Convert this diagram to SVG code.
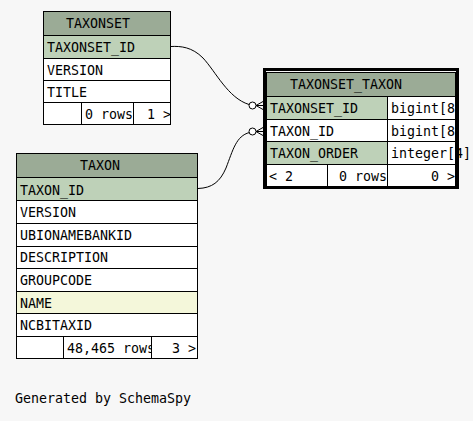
<svg xmlns="http://www.w3.org/2000/svg" width="473" height="421" viewBox="0 0 473 421">
<style>
text{font-family:"DejaVu Sans Mono","Liberation Mono",monospace;font-size:13.3px;fill:#000}
.c{stroke:#000;stroke-width:1}
.h{fill:#9bab96}
.k{fill:#bed1b8}
.w{fill:#fff}
.i{fill:#f4f7da}
.e{fill:none;stroke:#000;stroke-width:1}
</style>
<rect width="473" height="421" fill="#f7f7f7"/>
<g id="connectors">
<path class="e" d="M171,46.5 C181,46 192,47 203,58 C216,72 228,98 249,104.5"/>
<circle class="e" cx="252.5" cy="105.5" r="3.5" style="fill:#fff"/>
<path class="e" d="M256,105.5 L263,101.5 M256,105.5 L263,105.5 M256,105.5 L263,109.5"/>
<path class="e" d="M198,188.5 C212,188 220,182 226,168 C233,150 236,136 249.5,132.5"/>
<circle class="e" cx="252.5" cy="131.5" r="3.5" style="fill:#fff"/>
<path class="e" d="M256,131.5 L263,127.5 M256,131.5 L263,131.5 M256,131.5 L263,135.5"/>
</g>
<g id="TAXONSET">
<rect class="c h" x="43.5" y="11.5" width="127" height="24"/>
<text x="66" y="28">TAXONSET</text>
<rect class="c k" x="43.5" y="35.5" width="127" height="23"/>
<text x="47" y="52">TAXONSET_ID</text>
<rect class="c w" x="43.5" y="58.5" width="127" height="22"/>
<text x="47" y="74.5">VERSION</text>
<rect class="c w" x="43.5" y="80.5" width="127" height="22"/>
<text x="47" y="96.5">TITLE</text>
<rect class="c w" x="43.5" y="102.5" width="127" height="22"/>
<line class="c" x1="81.5" y1="102.5" x2="81.5" y2="124.5"/>
<line class="c" x1="133.5" y1="102.5" x2="133.5" y2="124.5"/>
<text x="85" y="119">0 rows</text>
<text x="147" y="119">1 &gt;</text>
</g>
<g id="TAXON">
<rect class="c h" x="16.5" y="153.5" width="181" height="24"/>
<text x="80" y="170">TAXON</text>
<rect class="c k" x="16.5" y="177.5" width="181" height="23"/>
<text x="20" y="195">TAXON_ID</text>
<rect class="c w" x="16.5" y="200.5" width="181" height="23"/>
<text x="20" y="217">VERSION</text>
<rect class="c w" x="16.5" y="223.5" width="181" height="23"/>
<text x="20" y="240">UBIONAMEBANKID</text>
<rect class="c w" x="16.5" y="246.5" width="181" height="22"/>
<text x="20" y="262">DESCRIPTION</text>
<rect class="c w" x="16.5" y="268.5" width="181" height="23"/>
<text x="20" y="285">GROUPCODE</text>
<rect class="c i" x="16.5" y="291.5" width="181" height="22"/>
<text x="20" y="307.5">NAME</text>
<rect class="c w" x="16.5" y="313.5" width="181" height="23"/>
<text x="20" y="330">NCBITAXID</text>
<rect class="c w" x="16.5" y="336.5" width="181" height="22"/>
<text x="67" y="353">48,465 rows</text>
<rect class="w" x="152" y="337" width="45" height="21"/>
<line class="c" x1="63.5" y1="336.5" x2="63.5" y2="358.5"/>
<line class="c" x1="151.5" y1="336.5" x2="151.5" y2="358.5"/>
<text x="172" y="353">3 &gt;</text>
</g>
<g id="TAXONSET_TAXON">
<rect class="c h" x="266.5" y="72.5" width="189" height="24"/>
<text x="290" y="88.5">TAXONSET_TAXON</text>
<rect class="c k" x="266.5" y="96.5" width="121" height="23"/>
<rect class="c w" x="387.5" y="96.5" width="68" height="23"/>
<text x="270" y="113">TAXONSET_ID</text>
<text x="391" y="113">bigint[8</text>
<rect class="c w" x="266.5" y="119.5" width="121" height="22"/>
<rect class="c w" x="387.5" y="119.5" width="68" height="22"/>
<text x="270" y="135.5">TAXON_ID</text>
<text x="391" y="135.5">bigint[8</text>
<rect class="c k" x="266.5" y="141.5" width="121" height="23"/>
<rect class="c w" x="387.5" y="141.5" width="68" height="23"/>
<text x="270" y="158">TAXON_ORDER</text>
<text x="391" y="158">integer[4]</text>
<rect class="c w" x="266.5" y="164.5" width="189" height="22"/>
<line class="c" x1="327.5" y1="164.5" x2="327.5" y2="186.5"/>
<line class="c" x1="387.5" y1="164.5" x2="387.5" y2="186.5"/>
<text x="269" y="181">&lt; 2</text>
<text x="339" y="181">0 rows</text>
<text x="431" y="181">0 &gt;</text>
<rect x="264.5" y="69.5" width="193" height="118" fill="none" stroke="#000" stroke-width="3"/>
</g>
<text x="15" y="402.5">Generated by SchemaSpy</text>
</svg>
